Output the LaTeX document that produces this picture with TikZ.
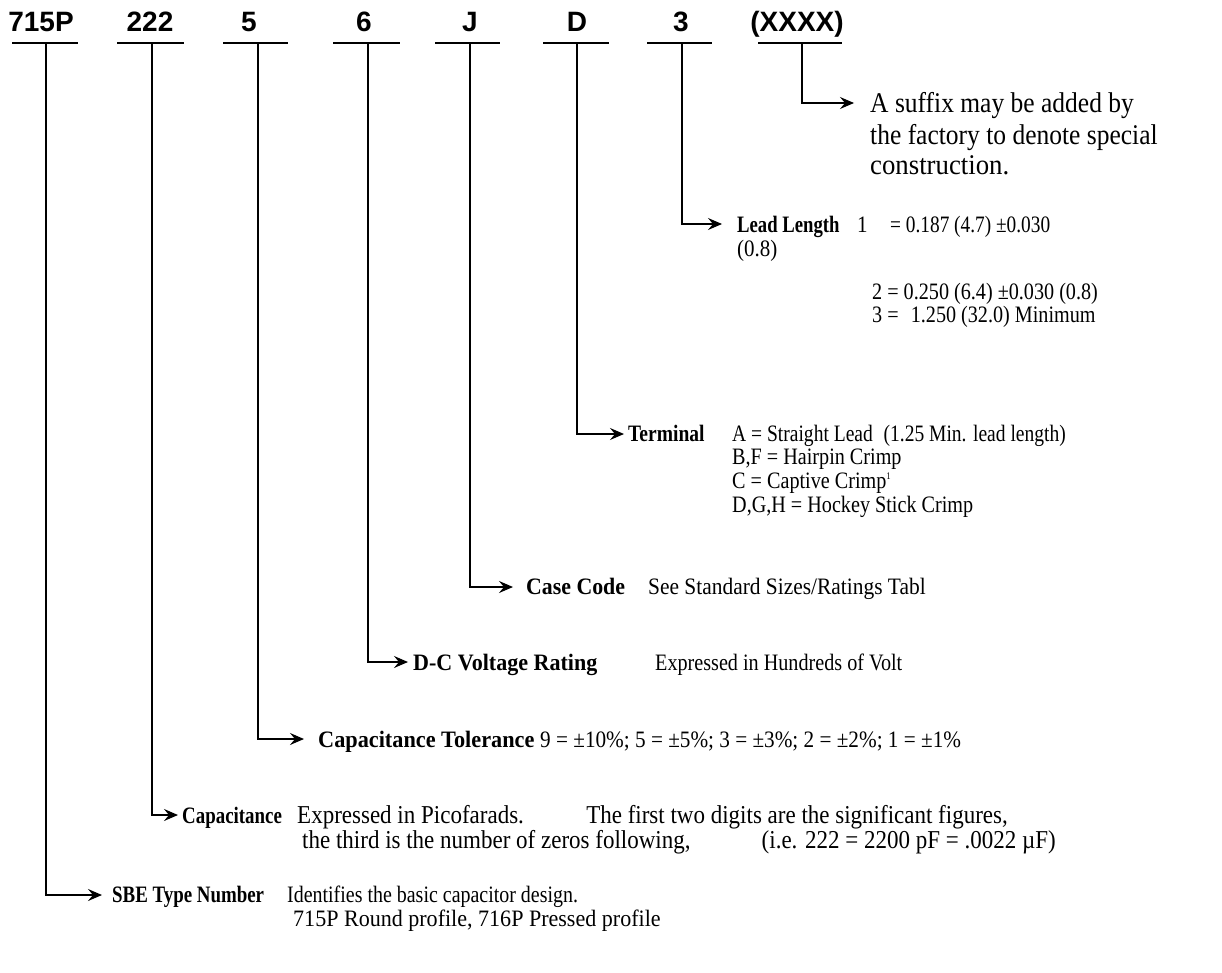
\documentclass[tikz,border=0pt]{standalone}
\usepackage{fontspec}
\usepackage{graphicx}
\setmainfont{Liberation Serif}
\newfontfamily\hdrfont{Liberation Sans}
\usetikzlibrary{arrows.meta}
% size, horizontal scale, text
\newcommand\tx[3]{{\fontsize{#1}{#1}\selectfont\scalebox{#2}[1.12]{#3}}}
\begin{document}
\begin{tikzpicture}[x=1pt,y=-1pt,
  hdr/.style={font=\hdrfont\bfseries\fontsize{28}{28}\selectfont, anchor=base, inner sep=0pt},
  txt/.style={anchor=base west, inner sep=0pt},
  txr/.style={anchor=base east, inner sep=0pt},
  lbl/.style={font=\bfseries, anchor=base west, inner sep=0pt},
  bar/.style={line width=1.5pt},
  conn/.style={line width=1.3pt, -{Stealth[length=14pt,width=12pt,inset=5pt]}}
]
\useasboundingbox[fill=white] (0,0) rectangle (1222,972);

% header codes
\node[hdr] (h1) at (41,31) {715P};
\node[hdr] (h2) at (150,31) {222};
\node[hdr] (h3) at (249,31) {5};
\node[hdr] (h4) at (364,31) {6};
\node[hdr] (h5) at (470,31) {J};
\node[hdr] (h6) at (577,31) {D};
\node[hdr] (h7) at (681,31) {3};
\node[hdr] (h8) at (797,31) {(XXXX)};

% underlines
\draw[bar] (12,43) -- (78,43);
\draw[bar] (117,43) -- (184,43);
\draw[bar] (223,43) -- (288,43);
\draw[bar] (333,43) -- (400,43);
\draw[bar] (435,43) -- (500,43);
\draw[bar] (543,43) -- (609,43);
\draw[bar] (647,43) -- (712,43);
\draw[bar] (758,43) -- (842,43);

% stem tops
\coordinate (s1) at (46,43);
\coordinate (s2) at (152,43);
\coordinate (s3) at (258,43);
\coordinate (s4) at (368,43);
\coordinate (s5) at (470,43);
\coordinate (s6) at (577,43);
\coordinate (s7) at (682,43);
\coordinate (s8) at (802,43);

% arrow ends
\coordinate (e8) at (854,103);
\coordinate (e7) at (722,224);
\coordinate (e6) at (624,434);
\coordinate (e5) at (513,587);
\coordinate (e4) at (408,662);
\coordinate (e3) at (304,739);
\coordinate (e2) at (178,815);
\coordinate (e1) at (102,895);

\foreach \i in {1,...,8} {\draw[conn] (s\i) |- (e\i);}

% suffix
\node[txt] (x1) at (870,112) {\tx{25.5}{1}{A suffix may be added by}};
\node[txt] (x2) at (870,144) {\tx{25.5}{1}{the factory to denote special}};
\node[txt] (x3) at (870,174) {\tx{25.5}{1.05}{construction.}};

% lead length
\node[lbl] (l0) at (737,232) {\tx{21}{0.89}{Lead Length}};
\node[txt] (l1) at (857,232) {\tx{21}{1}{1}};
\node[txt] (l2) at (890,232) {\tx{21}{0.92}{= 0.187 (4.7) \textpm0.030}};
\node[txt] (l3) at (737,256) {\tx{21}{1}{(0.8)}};
\node[txt] (l4) at (872,299) {\tx{21}{0.96}{2 = 0.250 (6.4) \textpm0.030 (0.8)}};
\node[txt] (l5) at (872,322) {\tx{21}{0.96}{3 =\hspace{0.6em}1.250 (32.0) Minimum}};

% terminal
\node[lbl] (t0) at (628,441) {\tx{21}{0.93}{Terminal}};
\node[txt] (t1) at (732,441) {\tx{21}{0.93}{A = Straight Lead\hspace{0.3em} (1.25 Min. lead length)}};
\node[txt] (t2) at (732,464) {\tx{21}{0.96}{B,F = Hairpin Crimp}};
\node[txt] (t3) at (732,488) {\tx{21}{0.96}{C = Captive Crimp\textsuperscript{\fontsize{9}{9}\selectfont 1}}};
\node[txt] (t4) at (732,512) {\tx{21}{0.96}{D,G,H = Hockey Stick Crimp}};

% case code
\node[lbl] (c0) at (526,594) {\tx{21}{1.04}{Case Code}};
\node[txt] (c1) at (648,594) {\tx{21}{1.02}{See Standard Sizes/Ratings Tabl}};

% voltage
\node[lbl] (v0) at (413,670) {\tx{21}{1.05}{D-C Voltage Rating}};
\node[txt] (v1) at (655,670) {\tx{21}{0.96}{Expressed in Hundreds of Volt}};

% tolerance
\node[lbl] (o0) at (318,747) {\tx{21}{1.06}{Capacitance Tolerance}};
\node[txt] (o1) at (540,747) {\tx{21}{1.01}{9 = \textpm10\%; 5 = \textpm5\%; 3 = \textpm3\%; 2 = \textpm2\%; 1 = \textpm1\%}};

% capacitance
\node[lbl] (p0) at (182,823) {\tx{21}{0.9}{Capacitance}};
\node[txt] (p1) at (297,823) {\tx{23}{1}{Expressed in Picofarads.}};
\node[txr] (p2) at (1008,823) {\tx{23}{1}{The first two digits are the significant figures,}};
\node[txt] (p3) at (302,848) {\tx{23}{1}{the third is the number of zeros following,}};
\node[txr] (p4) at (1056,848) {\tx{23}{1}{(i.e. 222 = 2200 pF = .0022 \textmu F)}};

% type number
\node[lbl] (n0) at (112,902) {\tx{21}{0.9}{SBE Type Number}};
\node[txt] (n1) at (287,902) {\tx{21}{0.95}{Identifies the basic capacitor design.}};
\node[txt] (n2) at (293,926) {\tx{21}{1.05}{715P Round profile, 716P Pressed profile}};
\end{tikzpicture}
\end{document}
